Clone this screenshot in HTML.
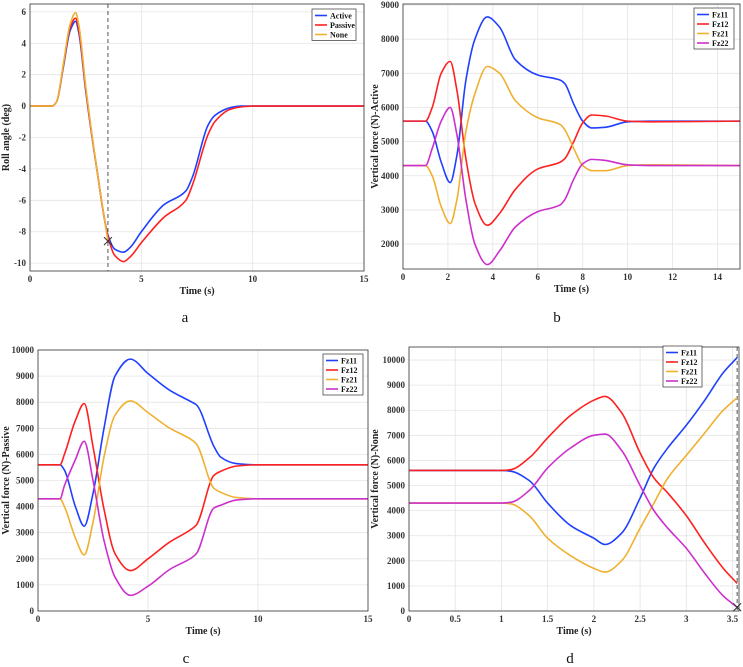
<!DOCTYPE html>
<html><head><meta charset="utf-8">
<style>
html,body{margin:0;padding:0;background:#fff;}
svg{display:block;font-family:"Liberation Serif",serif;}
.tk{font-size:9px;font-weight:bold;fill:#333;}
.lab{font-size:10px;font-weight:bold;fill:#222;}
.lg{font-size:8px;font-weight:bold;fill:#111;}
.sub{font-size:15px;fill:#111;}
</style></head>
<body>
<svg id="fig" width="743" height="667" viewBox="0 0 743 667"></svg>
<script>
// Panel a: roll angle
const aTime=[0,1,1.2,1.5,1.8,2.05,2.2,2.5,3,3.5,3.8,4.2,4.5,5,6,7,7.3,8,8.3,9,9.5,10,15];
const aActive=[0,0,0.3,2.5,4.8,5.4,4.6,1,-4,-8.2,-9.1,-9.3,-9.0,-8,-6.3,-5.4,-4.5,-1.2,-0.6,-0.1,0,0,0];
const aPassive=[0,0,0.3,2.6,5,5.6,4.8,1.1,-4,-8.3,-9.5,-9.9,-9.6,-8.7,-7.1,-6,-5,-1.8,-1,-0.2,-0.05,0,0];
const aNoneTime=[0,1,1.2,1.5,1.8,2.05,2.2,2.5,3,3.5];
const aNone=[0,0,0.3,2.7,5.2,5.95,5.1,1.3,-4,-8.6];
// Panel b: active forces
const bTime=[0,1,1.3,1.7,2.1,2.4,2.8,3.2,3.75,4.3,5,6,7,7.2,7.6,8,8.4,9,10,11,15];
const bFz11=[5600,5600,5300,4400,3800,4600,6800,8000,8650,8350,7400,6950,6800,6700,6100,5600,5400,5420,5580,5600,5600];
const bFz12=[5600,5600,6000,7000,7350,6500,4500,3200,2550,2900,3600,4200,4400,4500,5000,5550,5780,5750,5600,5580,5600];
const bFz21=[4300,4300,4000,3100,2600,3300,5300,6400,7200,7000,6200,5700,5500,5350,4800,4300,4150,4150,4300,4320,4300];
const bFz22=[4300,4300,4800,5600,6000,5200,3300,2000,1400,1800,2500,2950,3150,3300,3900,4350,4480,4450,4320,4300,4300];
// Panel c: passive forces
const cTime=[0,1,1.2,1.7,2.1,2.5,3,3.5,4.2,5,6,7,7.2,8,8.3,9,10,15];
const cFz11=[5600,5600,5400,4000,3250,4500,7000,9000,9650,9100,8450,8000,7900,6300,5900,5650,5600,5600];
const cFz12=[5600,5600,6000,7300,7950,6300,3900,2200,1550,2000,2650,3150,3300,5200,5350,5550,5600,5600];
const cFz21=[4300,4300,4000,2800,2150,3400,5900,7500,8050,7600,7000,6550,6400,4700,4550,4350,4300,4300];
const cFz22=[4300,4300,4800,5800,6500,5000,2700,1300,600,950,1600,2050,2200,3950,4050,4250,4300,4300];
// Panel d: no control forces
const dTime=[0,1,1.1,1.3,1.5,1.75,2,2.12,2.3,2.5,2.65,2.8,3,3.2,3.4,3.55];
const dFz11=[5600,5600,5570,5200,4300,3400,2900,2650,3100,4500,5700,6500,7400,8400,9500,10100];
const dFz12=[5600,5600,5630,6100,6900,7800,8400,8550,7900,6300,5300,4700,3800,2700,1700,1100];
const dFz21=[4300,4300,4270,3800,2900,2200,1700,1550,2000,3300,4300,5300,6200,7100,8000,8500];
const dFz22=[4300,4300,4330,4800,5700,6500,7000,7050,6400,5000,4000,3300,2500,1500,600,150];
// Tick labels
const aXTicks=[0,5,10,15], aYTicks=[-10,-8,-6,-4,-2,0,2,4,6];
const bXTicks=[0,2,4,6,8,10,12,14], bYTicks=[2000,3000,4000,5000,6000,7000,8000,9000];
const cXTicks=[0,5,10,15], cYTicks=[0,1000,2000,3000,4000,5000,6000,7000,8000,9000,10000];
const dXTicks=[0,0.5,1,1.5,2,2.5,3,3.5], dYTicks=[0,1000,2000,3000,4000,5000,6000,7000,8000,9000,10000];

const NS="http://www.w3.org/2000/svg";
const fig=document.getElementById('fig');
const BLUE="#2040ff",RED="#ff2020",ORG="#f0b030",MAG="#cc30cc";
function mk(tag,at,parent){const e=document.createElementNS(NS,tag);for(const k in at)e.setAttribute(k,at[k]);(parent||fig).appendChild(e);return e;}
// monotone cubic (Fritsch-Carlson) path through points
function smooth(pts){
  const n=pts.length, dx=[], m=[], s=[];
  for(let i=0;i<n-1;i++){dx[i]=pts[i+1][0]-pts[i][0];s[i]=(pts[i+1][1]-pts[i][1])/dx[i];}
  m[0]=s[0];m[n-1]=s[n-2];
  for(let i=1;i<n-1;i++){
    if(s[i-1]*s[i]<=0)m[i]=0;
    else{const w1=2*dx[i]+dx[i-1],w2=dx[i]+2*dx[i-1];m[i]=(w1+w2)/(w1/s[i-1]+w2/s[i]);}
  }
  let d="M"+pts[0][0].toFixed(2)+","+pts[0][1].toFixed(2);
  for(let i=0;i<n-1;i++){
    const h=dx[i]/3;
    d+=" C"+(pts[i][0]+h).toFixed(2)+","+(pts[i][1]+m[i]*h).toFixed(2)+" "+(pts[i+1][0]-h).toFixed(2)+","+(pts[i+1][1]-m[i+1]*h).toFixed(2)+" "+pts[i+1][0].toFixed(2)+","+pts[i+1][1].toFixed(2);
  }
  return d;
}
function panel(o){
  const g=mk('g',{});
  
  
  const X=v=>o.L+(v-o.xmin)/(o.xmax-o.xmin)*(o.R-o.L);
  const Y=v=>o.B-(v-o.ymin)/(o.ymax-o.ymin)*(o.B-o.T);
  o.xt.forEach(v=>{
    const l=mk('line',{x1:X(v),x2:X(v),y1:o.T,y2:o.B,stroke:"#e4e4e4","stroke-width":0.8},g);
    
    
    const t=mk('text',{x:X(v),y:o.B+11,"text-anchor":"middle",class:"tk"},g);t.textContent=v;
    
    
  });
  o.yt.forEach(v=>{
    const l=mk('line',{x1:o.L,x2:o.R,y1:Y(v),y2:Y(v),stroke:"#e4e4e4","stroke-width":0.8},g);
    
    
    const t=mk('text',{x:o.L-4,y:Y(v)+3,"text-anchor":"end",class:"tk"},g);t.textContent=v;
    
    
  });
  if(o.vline!==undefined){
    const l=mk('line',{x1:X(o.vline),x2:X(o.vline),y1:o.T,y2:o.B,stroke:"#555","stroke-width":1,"stroke-dasharray":"4,3"},g);
    
    
  }
  o.series.forEach(s=>{
    const pts=s.t.map((tv,i)=>[X(tv),Y(s.v[i])]);
    const p=mk('path',{d:smooth(pts),fill:"none",stroke:s.c,"stroke-width":1.6},g);
    
    
  });
  if(o.cross){
    const cx=X(o.cross[0]),cy=Y(o.cross[1]);
    const p=mk('path',{d:`M${cx-4},${cy-4}L${cx+4},${cy+4}M${cx-4},${cy+4}L${cx+4},${cy-4}`,stroke:"#333","stroke-width":1},g);
    
    
  }
  const fr=mk('rect',{x:o.L,y:o.T,width:o.R-o.L,height:o.B-o.T,fill:"none",stroke:"#333","stroke-width":0.8},g);
  
  
  const xl=mk('text',{x:(o.L+o.R)/2,y:o.B+23,"text-anchor":"middle",class:"lab"},g);xl.textContent="Time (s)";
  
  
  const yx=o.ylx, yy=(o.T+o.B)/2;
  const yl=mk('text',{x:yx,y:yy,"text-anchor":"middle",class:"lab",transform:`rotate(-90 ${yx} ${yy})`},g);yl.textContent=o.ylabel;
  
  
  const lg=mk('g',{},g);
  
  
  const n=o.series.length, lh=9.5;
  mk('rect',{x:o.lgx,y:o.lgy,width:o.lgw,height:n*lh+3,fill:"#fff",stroke:"#333","stroke-width":0.7},lg);
  o.series.forEach((s,i)=>{
    const yy2=o.lgy+6.5+i*lh;
    mk('line',{x1:o.lgx+3,x2:o.lgx+15,y1:yy2,y2:yy2,stroke:s.c,"stroke-width":1.6},lg);
    const t=mk('text',{x:o.lgx+18,y:yy2+3,class:"lg"},lg);t.textContent=s.n;
    
    
  });
}
panel({name:'panel-a-roll-angle',L:30,R:364,T:4,B:271,xmin:0,xmax:15,ymin:-10.5,ymax:6.5,xt:aXTicks,yt:aYTicks,
  ylabel:"Roll angle (deg)",ylx:9,vline:3.5,cross:[3.5,-8.6],lgx:312,lgy:9,lgw:44,
  series:[{n:"Active",t:aTime,v:aActive,c:BLUE},{n:"Passive",t:aTime,v:aPassive,c:RED},{n:"None",t:aNoneTime,v:aNone,c:ORG}]});
panel({name:'panel-b-active',L:403,R:740,T:4,B:269,xmin:0,xmax:15,ymin:1270,ymax:9030,xt:bXTicks,yt:bYTicks,
  ylabel:"Vertical force (N)-Active",ylx:378,lgx:694,lgy:8,lgw:40,
  series:[{n:"Fz11",t:bTime,v:bFz11,c:BLUE},{n:"Fz12",t:bTime,v:bFz12,c:RED},{n:"Fz21",t:bTime,v:bFz21,c:ORG},{n:"Fz22",t:bTime,v:bFz22,c:MAG}]});
panel({name:'panel-c-passive',L:38,R:368,T:350,B:611,xmin:0,xmax:15,ymin:0,ymax:10000,xt:cXTicks,yt:cYTicks,
  ylabel:"Vertical force (N)-Passive",ylx:9,lgx:323,lgy:354,lgw:40,
  series:[{n:"Fz11",t:cTime,v:cFz11,c:BLUE},{n:"Fz12",t:cTime,v:cFz12,c:RED},{n:"Fz21",t:cTime,v:cFz21,c:ORG},{n:"Fz22",t:cTime,v:cFz22,c:MAG}]});
panel({name:'panel-d-none',L:409,R:739,T:347,B:611,xmin:0,xmax:3.57,ymin:0,ymax:10520,xt:dXTicks,yt:dYTicks,
  ylabel:"Vertical force (N)-None",ylx:378,vline:3.55,cross:[3.55,150],lgx:663,lgy:346,lgw:39,
  series:[{n:"Fz11",t:dTime,v:dFz11,c:BLUE},{n:"Fz12",t:dTime,v:dFz12,c:RED},{n:"Fz21",t:dTime,v:dFz21,c:ORG},{n:"Fz22",t:dTime,v:dFz22,c:MAG}]});
[["a",185,325],["b",557,325],["c",186,666],["d",570,666]].forEach(s=>{
  const t=mk('text',{x:s[1],y:s[2]-3,"text-anchor":"middle",class:"sub"});t.textContent=s[0];
  
  
});
</script>
</body></html>
